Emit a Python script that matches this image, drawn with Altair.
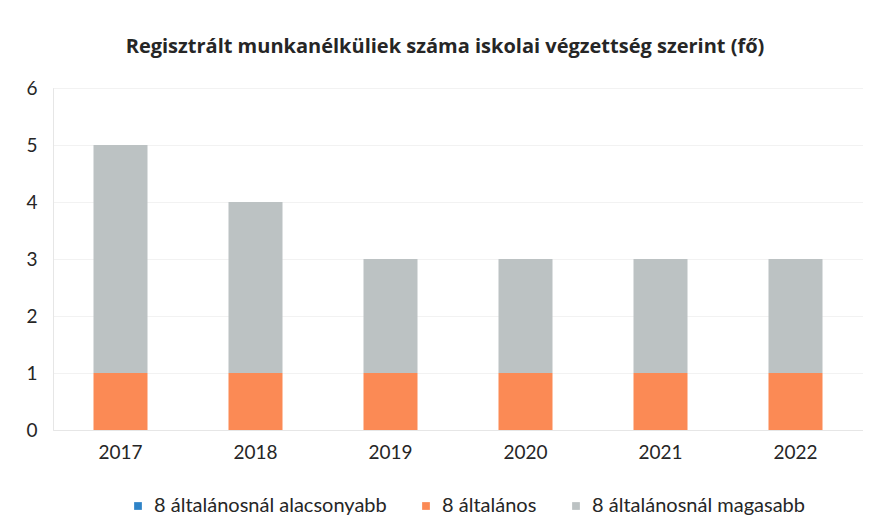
import altair as alt
import pandas as pd

years = ["2017", "2018", "2019", "2020", "2021", "2022"]
series = ["8 általánosnál alacsonyabb", "8 általános", "8 általánosnál magasabb"]
below8 = [0, 0, 0, 0, 0, 0]
elem8 = [1, 1, 1, 1, 1, 1]
above8 = [4, 3, 2, 2, 2, 2]
colors = ["#2e83c7", "#fb8a55", "#bcc2c3"]

rows = []
for i, y in enumerate(years):
    for k, (name, vals) in enumerate(zip(series, [below8, elem8, above8])):
        rows.append({"Év": y, "Kategória": name, "Fő": vals[i], "rend": k})
df = pd.DataFrame(rows)

FONT = "Lato"

chart = alt.Chart(df).mark_bar().encode(
    x=alt.X("Év:N", sort=years, title=None,
            scale=alt.Scale(paddingInner=0.6, paddingOuter=0.3),
            axis=alt.Axis(labelAngle=0, labelFontSize=19, labelColor="#262626",
                          labelPadding=13, ticks=False, domainColor="#e6e6e6",
                          labelFont=FONT)),
    y=alt.Y("Fő:Q", stack="zero", title=None,
            scale=alt.Scale(domain=[0, 6]),
            axis=alt.Axis(values=[0, 1, 2, 3, 4, 5, 6], labelFontSize=19,
                          labelColor="#262626", labelPadding=16, ticks=False,
                          domain=True, domainColor="#e6e6e6", gridColor="#f2f2f2",
                          labelFont=FONT)),
    color=alt.Color("Kategória:N", sort=series,
                    scale=alt.Scale(domain=series, range=colors),
                    legend=alt.Legend(title=None, orient="none", direction="horizontal",
                                      legendX=75, legendY=408, symbolType="square",
                                      symbolSize=60, labelFontSize=20,
                                      labelColor="#262626", labelFont=FONT,
                                      columnPadding=29, labelOffset=6,
                                      labelLimit=400, symbolStrokeWidth=0)),
    order=alt.Order("rend:Q"),
).properties(
    width=810, height=342,
    title=alt.TitleParams("Regisztrált munkanélküliek száma iskolai végzettség szerint (fő)",
                          fontSize=20, font="Open Sans", fontWeight="bold", color="#262626",
                          anchor="middle", dx=-13, offset=22),
    autosize=alt.AutoSizeParams(type="none"),
    padding={"left": 45, "top": 80, "right": 0, "bottom": 100},
).configure_view(stroke=None).configure(background="white")

chart.save("out.html", embed_options={"renderer": "svg", "actions": False})
